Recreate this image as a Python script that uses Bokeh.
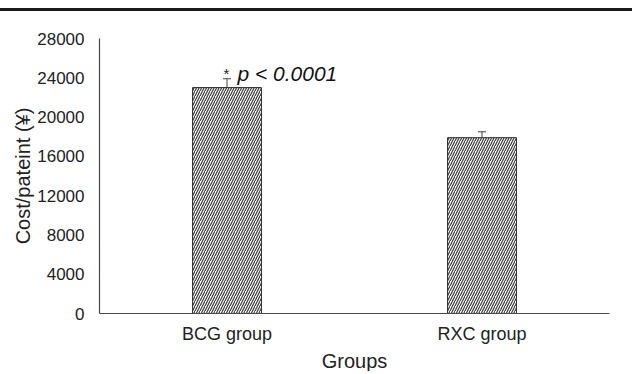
from bokeh.plotting import figure
from bokeh.models import Range1d, FixedTicker, Whisker, ColumnDataSource, Label
from bokeh.embed import file_html
from bokeh.resources import INLINE

groups = ["BCG group", "RXC group"]
means = [23000, 17900]
errors = [900, 600]
y_ticks = [0, 4000, 8000, 12000, 16000, 20000, 24000, 28000]
annotation = "p < 0.0001"

xpos = [i + 0.5 for i in range(len(groups))]
src = ColumnDataSource(dict(
    x=xpos, top=means,
    lower=[m - e for m, e in zip(means, errors)],
    upper=[m + e for m, e in zip(means, errors)],
))

FONT = "Liberation Sans"

p = figure(width=632, height=363, output_backend="svg", toolbar_location=None,
           x_range=Range1d(0, len(groups)), y_range=Range1d(0, 28000),
           min_border_left=99, min_border_right=23, min_border_top=27, min_border_bottom=60)
p.styles = {"border-top": "3px solid #1a1a1a", "margin-top": "8px"}
p.outline_line_color = None
p.grid.grid_line_color = None
p.background_fill_color = "white"

p.vbar(x="x", top="top", bottom=0, width=0.27, source=src,
       fill_color="white", line_color="#2b2b2b", line_width=1,
       hatch_pattern="/", hatch_color="#3a3a3a", hatch_scale=5, hatch_weight=1.2)

w = Whisker(base="x", lower="lower", upper="upper", source=src,
            line_color="#444444", line_width=1)
w.upper_head.size = 8
w.lower_head.size = 8
w.upper_head.line_color = "#444444"
w.lower_head.line_color = "#444444"
p.add_layout(w)

# annotation near BCG bar
ytxt = means[0] + errors[0] + 550
p.add_layout(Label(x=xpos[0] - 0.014, y=ytxt, text="*", text_font=FONT,
                   text_font_size="15px", text_color="#222222", text_baseline="alphabetic"))
p.add_layout(Label(x=xpos[0] + 0.041, y=ytxt, text=annotation, text_font=FONT,
                   text_font_size="21px", text_font_style="italic", text_color="#111111",
                   text_baseline="alphabetic"))

p.yaxis.ticker = FixedTicker(ticks=y_ticks)
p.xaxis.ticker = FixedTicker(ticks=xpos)
p.xaxis.major_label_overrides = {x: g for x, g in zip(xpos, groups)}

for ax in (p.xaxis[0], p.yaxis[0]):
    ax.major_tick_line_color = None
    ax.minor_tick_line_color = None
    ax.axis_line_color = "#4a4a4a"
    ax.axis_line_width = 1.2
    ax.major_label_text_font = FONT
    ax.major_label_text_font_size = "17px"
    ax.major_label_text_color = "#222222"
    ax.axis_label_text_font = FONT
    ax.axis_label_text_font_size = "20px"
    ax.axis_label_text_font_style = "normal"
    ax.axis_label_text_color = "#222222"

p.xaxis.major_label_text_font_size = "18px"
p.yaxis.axis_label = "Cost/pateint (¥)"
p.xaxis.axis_label = "Groups"
p.yaxis.major_label_standoff = 9
p.yaxis.axis_label_standoff = 0
p.xaxis.major_label_standoff = 4
p.xaxis.axis_label_standoff = 3

open("out.html", "w").write(file_html(p, INLINE))
